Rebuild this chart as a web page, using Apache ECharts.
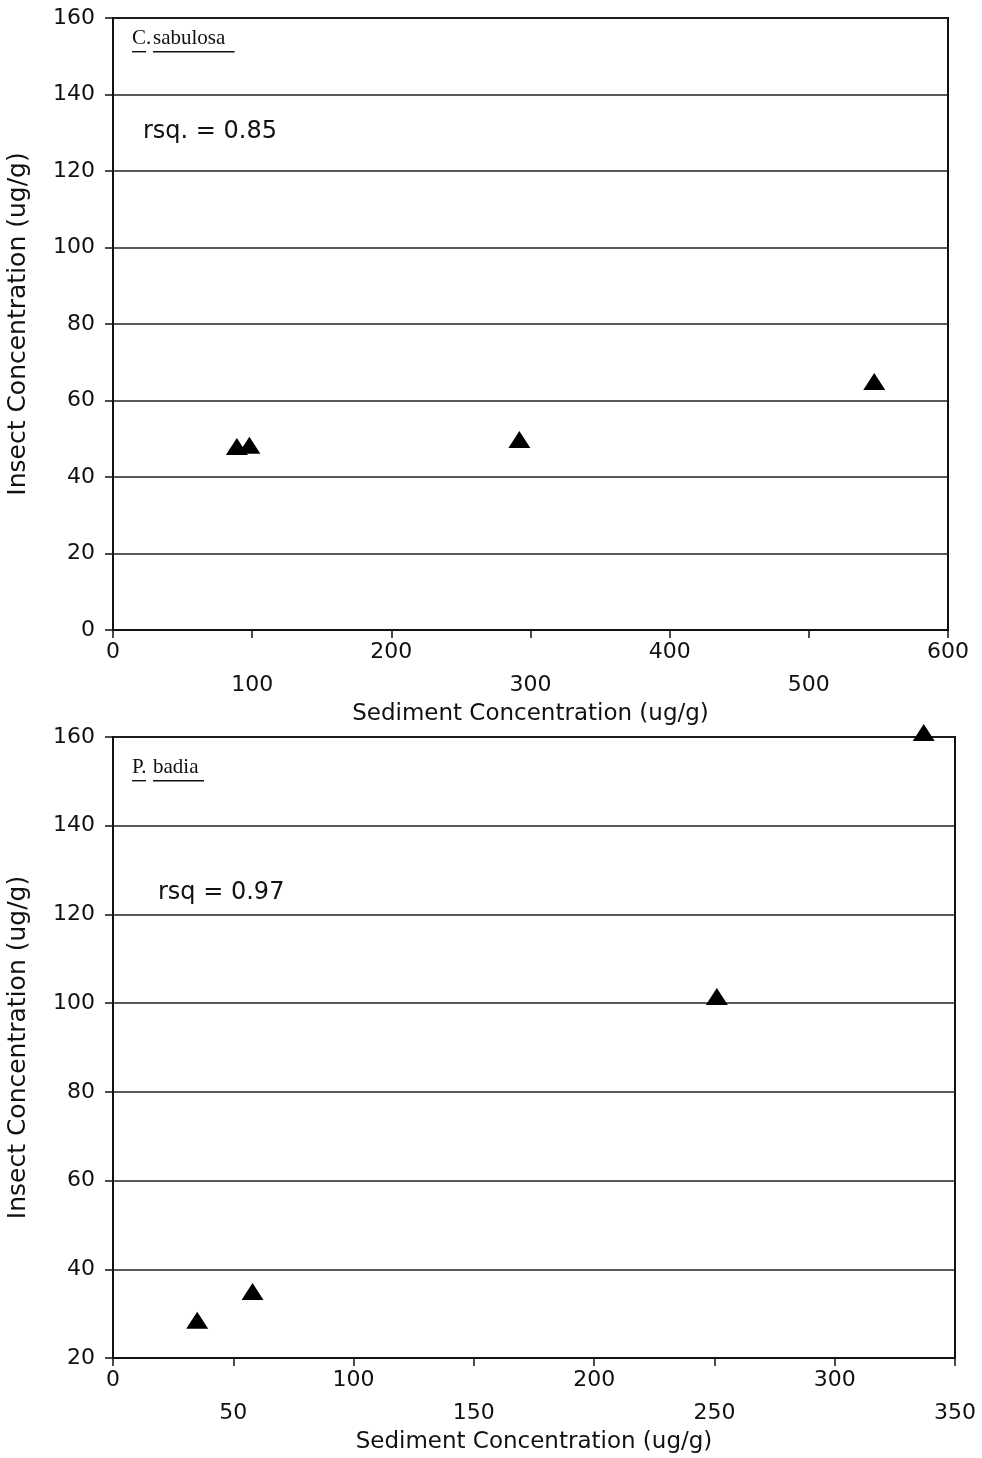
<!DOCTYPE html>
<html>
<head>
<meta charset="utf-8">
<script src="https://cdn.jsdelivr.net/npm/echarts@6/dist/echarts.min.js"></script>
<style>
  html, body { margin: 0; padding: 0; background: #fff; }
  #chart { width: 982px; height: 1458px; }
</style>
</head>
<body>
<div id="chart"></div>
<script>
// C. sabulosa panel: sediment vs insect concentration (ug/g)
const sabulosaX = [89, 98, 292, 547];
const sabulosaY = [48, 48.3, 49.8, 65];
// P. badia panel
const badiaX = [35, 58, 251, 337];
const badiaY = [28.5, 35, 101.5, 161];

const topXTicks = { min: 0, max: 600, interval: 100 };
const topYTicks = { min: 0, max: 160, interval: 20 };
const botXTicks = { min: 0, max: 350, interval: 50 };
const botYTicks = { min: 20, max: 160, interval: 20 };

const sabulosaLabel = ['C.', 'sabulosa'];
const badiaLabel = ['P.', 'badia'];
const rsqTop = 'rsq. = 0.85';
const rsqBot = 'rsq = 0.97';

const ink = '#111';
const labelFont = 'DejaVu Sans';

// staggered x labels: every other tick drops to a second row
const xAxisFor = (ticks, gridIndex) => ({
  type: 'value', gridIndex, min: ticks.min, max: ticks.max, interval: ticks.interval,
  name: 'Sediment Concentration (ug/g)', nameLocation: 'middle', nameGap: 70,
  nameTextStyle: { fontFamily: labelFont, fontSize: 23, color: ink },
  axisLine: { show: true, onZero: false, lineStyle: { color: ink, width: 2 } },
  axisTick: { show: true, inside: false, length: 8, lineStyle: { color: ink, width: 1.5 } },
  axisLabel: {
    fontFamily: labelFont, fontSize: 22, color: ink, margin: 6, lineHeight: 33,
    showMaxLabel: true, showMinLabel: true,
    formatter: (v) => ((v / ticks.interval) % 2 ? '\n' + v : String(v)),
  },
  splitLine: { show: false },
});
const yAxisFor = (ticks, gridIndex) => ({
  type: 'value', gridIndex, min: ticks.min, max: ticks.max, interval: ticks.interval,
  name: 'Insect Concentration (ug/g)', nameLocation: 'middle', nameGap: 82, nameRotate: 90,
  nameTextStyle: { fontFamily: labelFont, fontSize: 25, color: ink },
  axisLine: { show: true, lineStyle: { color: ink, width: 2 } },
  axisTick: { show: true, length: 8, lineStyle: { color: ink, width: 1.5 } },
  axisLabel: { fontFamily: labelFont, fontSize: 22, color: ink, margin: 18 },
  splitLine: { show: true, lineStyle: { color: '#222', width: 1.5 } },
});

const pts = (xs, ys) => xs.map((x, i) => [x, ys[i]]);
const scatter = (data, idx) => ({
  type: 'scatter', xAxisIndex: idx, yAxisIndex: idx, data, clip: false,
  symbol: 'triangle', symbolSize: [22, 17],
  itemStyle: { color: '#000', opacity: 1 }, z: 5,
});

// panel annotations: species name (underlined serif) and r-squared
const panelText = (species, rsq, top, rsqLeft, rsqTop) => [
  { type: 'text', left: 132, top: top, style: { text: species[0], font: '21px "Liberation Serif"', fill: ink } },
  { type: 'rect', left: 132, top: top + 23, shape: { width: 14, height: 1.4 }, style: { fill: ink } },
  { type: 'text', left: 153, top: top, style: { text: species[1], font: '21px "Liberation Serif"', fill: ink } },
  { type: 'rect', left: 153, top: top + 23, shape: { width: species[1].length * 10.2, height: 1.4 }, style: { fill: ink } },
  { type: 'text', left: rsqLeft, top: rsqTop, style: { text: rsq, font: '24px "DejaVu Sans"', fill: ink } },
];

const chart = echarts.init(document.getElementById('chart'), null, { renderer: 'canvas' });
chart.setOption({
  animation: false,
  backgroundColor: '#fff',
  grid: [
    { left: 113, top: 18, width: 835, height: 612, outerBoundsMode: 'none', show: true, borderColor: ink, borderWidth: 2, backgroundColor: 'transparent' },
    { left: 113, top: 737, width: 842, height: 621, outerBoundsMode: 'none', show: true, borderColor: ink, borderWidth: 2, backgroundColor: 'transparent' },
  ],
  xAxis: [xAxisFor(topXTicks, 0), xAxisFor(botXTicks, 1)],
  yAxis: [yAxisFor(topYTicks, 0), yAxisFor(botYTicks, 1)],
  series: [scatter(pts(sabulosaX, sabulosaY), 0), scatter(pts(badiaX, badiaY), 1)],
  graphic: [
    ...panelText(sabulosaLabel, rsqTop, 28, 143, 120),
    ...panelText(badiaLabel, rsqBot, 757, 158, 881),
  ],
});
</script>
</body>
</html>
